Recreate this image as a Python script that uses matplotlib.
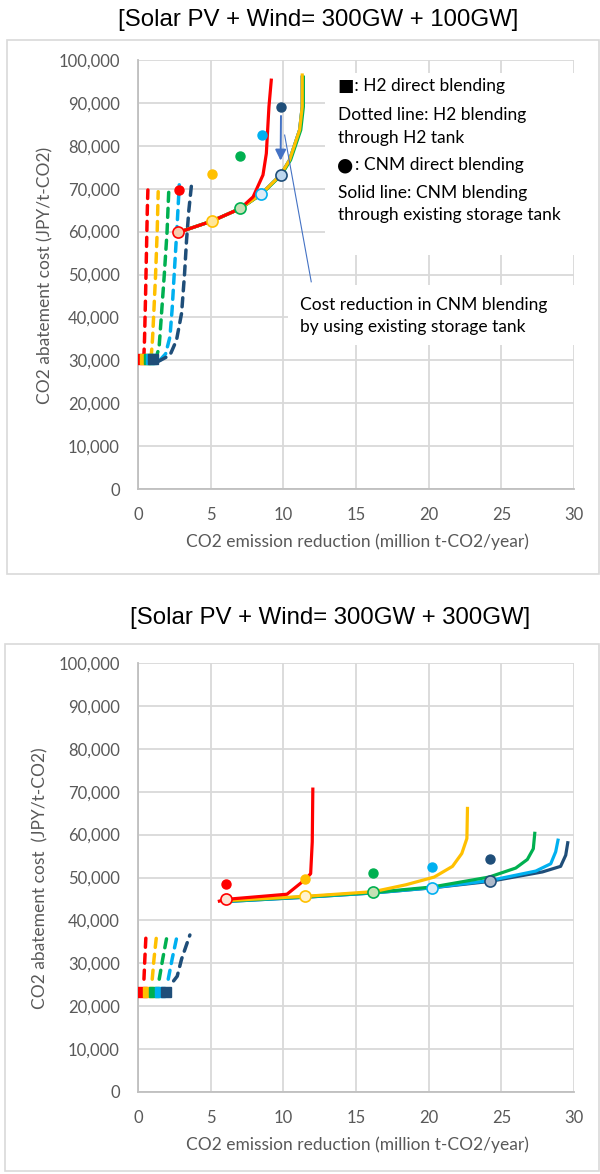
import numpy as np
import matplotlib
matplotlib.use("Agg")
import matplotlib.pyplot as plt
from matplotlib.patches import Rectangle

plt.rcParams['font.family'] = ['Lato', 'DejaVu Sans']

# colores das series (vermelho, amarelo, verde, azul claro, azul escuro)
cores = ['#FF0000', '#FFC000', '#00B050', '#00B0F0', '#1F4E79']
preench_sup = ['#F8CBAD', '#FFE699', '#C5E0B4', '#DDEBF7', '#BDD7EE']
preench_inf = ['#FBE5D6', '#FFF2CC', '#C5E0B4', '#DEEBF7', '#ADB9CA']

titulo_sup = '[Solar PV + Wind= 300GW + 100GW]'
titulo_inf = '[Solar PV + Wind= 300GW + 300GW]'
rotulo_x = 'CO2 emission reduction (million t-CO2/year)'
rotulo_y_sup = 'CO2 abatement cost (JPY/t-CO2)'
rotulo_y_inf = 'CO2 abatement cost  (JPY/t-CO2)'
ticks_x = [0, 5, 10, 15, 20, 25, 30]
ticks_y = [0, 10000, 20000, 30000, 40000, 50000, 60000, 70000, 80000, 90000, 100000]

# ---------------- grafico superior (300GW + 100GW) ----------------
sup_quad_x = [0.14, 0.50, 0.73, 0.87, 1.00]
sup_quad_y = [30400, 30400, 30400, 30400, 30400]

sup_tanque_x = [
    [0.40, 0.45, 0.52, 0.58, 0.64, 0.68],
    [0.90, 1.00, 1.10, 1.21, 1.32, 1.39],
    [1.20, 1.45, 1.60, 1.81, 2.00, 2.13],
    [1.50, 1.90, 2.20, 2.35, 2.49, 2.70, 2.84],
    [1.37, 2.20, 2.65, 3.00, 3.20, 3.34, 3.50, 3.68],
]
sup_tanque_y = [
    [30500, 35000, 45000, 55000, 65000, 69700],
    [30500, 35000, 42000, 50000, 60000, 69300],
    [30000, 33000, 40000, 50000, 60000, 70600],
    [30000, 31500, 35500, 42000, 50000, 62000, 70900],
    [29700, 31200, 34700, 41000, 50000, 58000, 65000, 70900],
]

sup_cnm_x = [
    [2.77, 5.12, 7.05, 7.92, 8.60, 8.83, 9.01, 9.17],
    [2.77, 5.12, 7.05, 8.49, 9.81, 10.43, 11.12, 11.30, 11.30],
    [2.77, 5.12, 7.05, 8.52, 9.86, 10.50, 11.20, 11.38, 11.38],
    [2.77, 5.12, 7.05, 8.49, 9.81, 10.43, 11.12, 11.30, 11.30],
    [2.77, 5.12, 7.05, 8.49, 9.81, 10.43, 11.12, 11.30, 11.30],
]
sup_cnm_y = [
    [59800, 62500, 65400, 68100, 73200, 78200, 89100, 95300],
    [59800, 62500, 65400, 68800, 73200, 76700, 83700, 89100, 96500],
    [59800, 62500, 65400, 68800, 73200, 76700, 83700, 89100, 96000],
    [59800, 62500, 65400, 68800, 73200, 76700, 83700, 89100, 96000],
    [59800, 62500, 65400, 68800, 73200, 76700, 83700, 89100, 96000],
]
sup_circ_x = [2.77, 5.12, 7.05, 8.49, 9.81]
sup_circ_y = [59800, 62500, 65400, 68800, 73200]
sup_ponto_x = [2.79, 5.12, 7.05, 8.51, 9.84]
sup_ponto_y = [69700, 73400, 77700, 82500, 89100]

# ---------------- grafico inferior (300GW + 300GW) ----------------
inf_quad_x = [0.25, 0.71, 1.10, 1.51, 1.90]
inf_quad_y = [23200, 23200, 23200, 23200, 23200]

inf_tanque_x = [
    [0.41, 0.47, 0.55],
    [0.98, 1.10, 1.28],
    [1.46, 1.70, 2.01],
    [2.08, 2.35, 2.70],
    [2.45, 2.70, 3.00, 3.57],
]
inf_tanque_y = [
    [26300, 31000, 36600],
    [26300, 31000, 36600],
    [26300, 31000, 36600],
    [26300, 31000, 36600],
    [25900, 27000, 31000, 36600],
]

inf_cnm_x = [
    [5.60, 6.04, 10.25, 11.53, 11.88, 11.99, 12.03],
    [6.04, 11.48, 16.20, 18.43, 20.38, 21.64, 22.28, 22.63, 22.67],
    [6.04, 11.48, 16.20, 20.26, 24.16, 25.99, 26.79, 27.20, 27.30],
    [6.04, 11.48, 16.20, 20.26, 24.23, 27.37, 28.40, 28.74, 28.90],
    [6.04, 11.48, 16.20, 20.26, 24.23, 27.83, 29.08, 29.43, 29.57],
]
inf_cnm_y = [
    [44500, 44900, 46100, 49600, 50900, 58300, 70600],
    [44600, 45600, 46700, 48300, 50100, 52600, 55600, 59100, 66100],
    [44500, 45500, 46500, 47800, 50100, 52200, 54200, 56700, 60300],
    [44400, 45400, 46400, 47600, 49300, 51500, 53200, 56000, 58700],
    [44400, 45400, 46400, 47600, 49100, 51300, 52600, 55200, 58100],
]
inf_circ_x = [6.04, 11.48, 16.20, 20.26, 24.23]
inf_circ_y = [44900, 45700, 46600, 47600, 49100]
inf_ponto_x = [6.04, 11.50, 16.20, 20.26, 24.23]
inf_ponto_y = [48600, 49700, 51000, 52500, 54400]

cinza = '#595959'
grade = '#D9D9D9'

fig = plt.figure(figsize=(6, 11.74), dpi=100)

# molduras das areas de grafico
fig.patches.append(Rectangle((7/600, 1 - 574/1174), 592/600, 534/1174, transform=fig.transFigure,
                             fill=False, edgecolor=grade, lw=1.2))
fig.patches.append(Rectangle((5/600, 1 - 1171/1174), 594/600, 527/1174, transform=fig.transFigure,
                             fill=False, edgecolor=grade, lw=1.2))


def prepara_eixo(ax):
    ax.set_xlim(0, 30)
    ax.set_ylim(0, 100000)
    ax.set_xticks(ticks_x)
    ax.set_yticks(ticks_y)
    ax.set_yticklabels(['{:,}'.format(v) for v in ticks_y])
    ax.tick_params(length=0, labelsize=12, labelcolor=cinza, pad=13)
    ax.set_axisbelow(True)
    ax.grid(True, color=grade, lw=1.3)
    for s in ['top', 'right']:
        ax.spines[s].set_visible(False)
    for s in ['left', 'bottom']:
        ax.spines[s].set_color('#BFBFBF')
        ax.spines[s].set_linewidth(1.3)


def desenha(ax, tq_x, tq_y, cnm_x, cnm_y, q_x, q_y, c_x, c_y, p_x, p_y, preench):
    for i in range(5):
        ax.plot(tq_x[i], tq_y[i], color=cores[i], lw=2.5, dashes=(2.6, 2.0),
                dash_capstyle='round', zorder=3)
    for i in range(5):
        ax.plot(q_x[i], q_y[i], marker='s', ms=6.5, color=cores[i], zorder=4)
    for i in [4, 3, 2, 1, 0]:
        ax.plot(cnm_x[i], cnm_y[i], color=cores[i], lw=2.3, zorder=3)
    for i in range(5):
        ax.plot(c_x[i], c_y[i], marker='o', ms=8, mfc=preench[i], mec=cores[i],
                mew=1.2, zorder=5)
        ax.plot(p_x[i], p_y[i], marker='o', ms=6.5, color=cores[i], zorder=5)


ax1 = fig.add_axes([138/600, 1 - 489/1174, 436/600, 429/1174])
prepara_eixo(ax1)
desenha(ax1, sup_tanque_x, sup_tanque_y, sup_cnm_x, sup_cnm_y, sup_quad_x, sup_quad_y,
        sup_circ_x, sup_circ_y, sup_ponto_x, sup_ponto_y, preench_sup)

# seta: reducao de custo
ax1.annotate('', xy=(sup_circ_x[4], 75900), xytext=(sup_ponto_x[4], 87600),
             arrowprops=dict(arrowstyle='-|>', color='#4472C4', lw=1.4, mutation_scale=16),
             zorder=6)
ax1.plot([10.09, 11.92], [82500, 48300], color='#4472C4', lw=0.8, zorder=6)

# caixas brancas de texto
fig.patches.append(Rectangle((325/600, 1 - 255/1174), 265/600, 182/1174, transform=fig.transFigure,
                             facecolor='white', edgecolor='none', zorder=1))
fig.patches.append(Rectangle((288/600, 1 - 345/1174), 292/600, 60/1174, transform=fig.transFigure,
                             facecolor='white', edgecolor='none', zorder=1))
ax1.set_zorder(0.5)
ax1.patch.set_visible(False)

fs_leg = 12.5
fig.text(337/600, 1 - 165/1174, '\u25CF', fontsize=13.5, family='DejaVu Sans',
         va='center', ha='left', zorder=2)
fig.text(355/600, 1 - 165/1174, ': CNM direct blending', fontsize=fs_leg, va='center', ha='left', zorder=2)
legenda = [('\u25A0: H2 direct blending', 86),
           ('Dotted line: H2 blending', 115),
           ('through H2 tank', 138),
           ('Solid line: CNM blending', 193),
           ('through existing storage tank', 215)]
for txt, yp in legenda:
    fig.text(338/600, 1 - yp/1174, txt, fontsize=fs_leg, color='black', va='center', ha='left',
             zorder=2)
fig.text(300/600, 1 - 305/1174, 'Cost reduction in CNM blending', fontsize=12.5, va='center', zorder=2)
fig.text(300/600, 1 - 327/1174, 'by using existing storage tank', fontsize=12.5, va='center', zorder=2)

ax2 = fig.add_axes([138/600, 1 - 1092/1174, 436/600, 429/1174])
prepara_eixo(ax2)
desenha(ax2, inf_tanque_x, inf_tanque_y, inf_cnm_x, inf_cnm_y, inf_quad_x, inf_quad_y,
        inf_circ_x, inf_circ_y, inf_ponto_x, inf_ponto_y, preench_inf)

# titulos e rotulos
fig.text(318/600, 1 - 20/1174, titulo_sup, fontsize=17.3, family='Liberation Sans',
         ha='center', va='center')
fig.text(330/600, 1 - 618/1174, titulo_inf, fontsize=17.3, family='Liberation Sans',
         ha='center', va='center')
fig.text(357/600, 1 - 542/1174, rotulo_x, fontsize=12.5, color=cinza, ha='center', va='center')
fig.text(357/600, 1 - 1145/1174, rotulo_x, fontsize=12.5, color=cinza, ha='center', va='center')
fig.text(45/600, 1 - 275/1174, rotulo_y_sup, fontsize=12.5, color=cinza, rotation=90,
         ha='center', va='center')
fig.text(40/600, 1 - 878/1174, rotulo_y_inf, fontsize=12.5, color=cinza, rotation=90,
         ha='center', va='center')

fig.savefig('out.png', dpi=100)
